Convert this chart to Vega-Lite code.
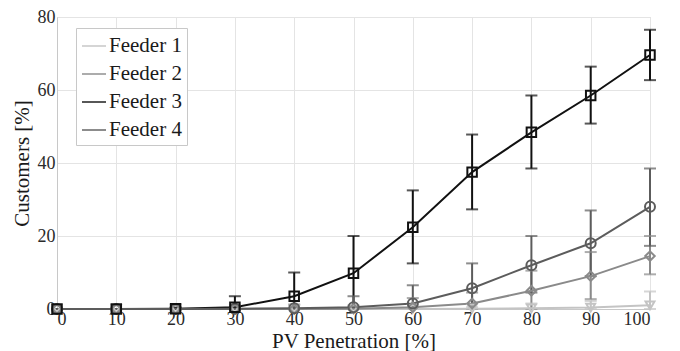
{
  "$schema": "https://vega.github.io/schema/vega-lite/v6.json",
  "width": 593,
  "height": 292,
  "autosize": {"type": "none"},
  "padding": {"left": 57, "top": 17, "right": 30, "bottom": 42},
  "background": "white",
  "config": {
    "font": "Liberation Serif",
    "view": {"stroke": "#d0d0d0", "strokeWidth": 1},
    "axis": {
      "labelFont": "Liberation Serif",
      "titleFont": "Liberation Serif",
      "labelFontSize": 18,
      "titleFontSize": 21,
      "labelColor": "#2a2a2a",
      "titleColor": "#1a1a1a",
      "titleFontWeight": "normal",
      "gridColor": "#e4e4e4",
      "gridWidth": 1,
      "domainColor": "#c8c8c8",
      "ticks": false
    },
    "legend": {
      "labelFont": "Liberation Serif",
      "labelFontSize": 21,
      "labelColor": "#1a1a1a"
    }
  },
  "data": {
    "values": [
      {"x": 0, "feeder": "Feeder 1", "y": 0, "lo": 0, "hi": 0},
      {"x": 10, "feeder": "Feeder 1", "y": 0, "lo": 0, "hi": 0},
      {"x": 20, "feeder": "Feeder 1", "y": 0, "lo": 0, "hi": 0},
      {"x": 30, "feeder": "Feeder 1", "y": 0, "lo": 0, "hi": 0},
      {"x": 40, "feeder": "Feeder 1", "y": 0, "lo": 0, "hi": 0},
      {"x": 50, "feeder": "Feeder 1", "y": 0, "lo": 0, "hi": 0},
      {"x": 60, "feeder": "Feeder 1", "y": 0, "lo": 0, "hi": 0},
      {"x": 70, "feeder": "Feeder 1", "y": 0.1, "lo": 0, "hi": 0.5},
      {"x": 80, "feeder": "Feeder 1", "y": 0.2, "lo": 0, "hi": 1.5},
      {"x": 90, "feeder": "Feeder 1", "y": 0.4, "lo": 0, "hi": 2.2},
      {"x": 100, "feeder": "Feeder 1", "y": 1, "lo": 0, "hi": 4.8},
      {"x": 0, "feeder": "Feeder 2", "y": 0, "lo": 0, "hi": 0},
      {"x": 10, "feeder": "Feeder 2", "y": 0, "lo": 0, "hi": 0},
      {"x": 20, "feeder": "Feeder 2", "y": 0, "lo": 0, "hi": 0},
      {"x": 30, "feeder": "Feeder 2", "y": 0, "lo": 0, "hi": 0},
      {"x": 40, "feeder": "Feeder 2", "y": 0, "lo": 0, "hi": 0},
      {"x": 50, "feeder": "Feeder 2", "y": 0.1, "lo": 0, "hi": 0.8},
      {"x": 60, "feeder": "Feeder 2", "y": 0.5, "lo": 0, "hi": 3},
      {"x": 70, "feeder": "Feeder 2", "y": 1.5, "lo": 0, "hi": 4.5},
      {"x": 80, "feeder": "Feeder 2", "y": 5, "lo": 0, "hi": 10.5},
      {"x": 90, "feeder": "Feeder 2", "y": 9, "lo": 2.7, "hi": 15.6},
      {"x": 100, "feeder": "Feeder 2", "y": 14.5, "lo": 9.5, "hi": 20},
      {"x": 0, "feeder": "Feeder 3", "y": 0, "lo": 0, "hi": 0},
      {"x": 10, "feeder": "Feeder 3", "y": 0, "lo": 0, "hi": 0},
      {"x": 20, "feeder": "Feeder 3", "y": 0.1, "lo": 0, "hi": 0.4},
      {"x": 30, "feeder": "Feeder 3", "y": 0.5, "lo": 0, "hi": 3.5},
      {"x": 40, "feeder": "Feeder 3", "y": 3.5, "lo": 0, "hi": 10},
      {"x": 50, "feeder": "Feeder 3", "y": 9.8, "lo": 0, "hi": 20},
      {"x": 60, "feeder": "Feeder 3", "y": 22.4, "lo": 12.5, "hi": 32.5},
      {"x": 70, "feeder": "Feeder 3", "y": 37.5, "lo": 27.3, "hi": 47.8},
      {"x": 80, "feeder": "Feeder 3", "y": 48.4, "lo": 38.5, "hi": 58.5},
      {"x": 90, "feeder": "Feeder 3", "y": 58.5, "lo": 50.8, "hi": 66.4},
      {"x": 100, "feeder": "Feeder 3", "y": 69.6, "lo": 62.7, "hi": 76.5},
      {"x": 0, "feeder": "Feeder 4", "y": 0, "lo": 0, "hi": 0},
      {"x": 10, "feeder": "Feeder 4", "y": 0, "lo": 0, "hi": 0},
      {"x": 20, "feeder": "Feeder 4", "y": 0, "lo": 0, "hi": 0},
      {"x": 30, "feeder": "Feeder 4", "y": 0.1, "lo": 0, "hi": 0.6},
      {"x": 40, "feeder": "Feeder 4", "y": 0.2, "lo": 0, "hi": 1.2},
      {"x": 50, "feeder": "Feeder 4", "y": 0.5, "lo": 0, "hi": 3.5},
      {"x": 60, "feeder": "Feeder 4", "y": 1.5, "lo": 0, "hi": 6.5},
      {"x": 70, "feeder": "Feeder 4", "y": 5.7, "lo": 0, "hi": 12.5},
      {"x": 80, "feeder": "Feeder 4", "y": 12, "lo": 4.5, "hi": 20},
      {"x": 90, "feeder": "Feeder 4", "y": 18, "lo": 9, "hi": 27},
      {"x": 100, "feeder": "Feeder 4", "y": 28, "lo": 17.3, "hi": 38.5}
    ]
  },
  "encoding": {
    "x": {
      "field": "x", "type": "quantitative",
      "scale": {"domain": [0, 100], "nice": false},
      "axis": {"values": [0,10,20,30,40,50,60,70,80,90,100], "title": "PV Penetration [%]", "labelPadding": 1, "titlePadding": 2}
    },
    "color": {
      "field": "feeder", "type": "nominal",
      "scale": {"domain": ["Feeder 1", "Feeder 2", "Feeder 3", "Feeder 4"], "range": ["#c4c4c4", "#8a8a8a", "#111111", "#5c5c5c"]},
      "legend": {
        "orient": "none", "legendX": 19, "legendY": 11,
        "title": null,
        "symbolType": "stroke", "symbolSize": 576, "symbolStrokeWidth": 2,
        "strokeColor": "#c8c8c8", "fillColor": "white",
        "padding": 5, "rowPadding": 5, "labelOffset": 2
      }
    }
  },
  "layer": [
    {
      "mark": {"type": "rule", "strokeWidth": 2},
      "encoding": {
        "y": {"field": "lo", "type": "quantitative"},
        "y2": {"field": "hi"}
      }
    },
    {
      "mark": {"type": "tick", "orient": "horizontal", "size": 12, "thickness": 2},
      "encoding": {"y": {"field": "hi", "type": "quantitative"}}
    },
    {
      "mark": {"type": "tick", "orient": "horizontal", "size": 12, "thickness": 2},
      "encoding": {"y": {"field": "lo", "type": "quantitative"}}
    },
    {
      "mark": {"type": "line", "strokeWidth": 2},
      "encoding": {
        "y": {
          "field": "y", "type": "quantitative",
          "scale": {"domain": [0, 80], "nice": false},
          "axis": {"values": [0, 20, 40, 60, 80], "title": "Customers [%]", "labelPadding": 2, "titlePadding": 5}
        }
      }
    },
    {
      "transform": [{"filter": "datum.feeder === 'Feeder 1'"}],
      "mark": {"type": "point", "shape": "triangle-down", "filled": false, "strokeWidth": 2, "size": 80, "opacity": 1},
      "encoding": {"y": {"field": "y", "type": "quantitative"}, "color": {"value": "#c4c4c4"}}
    },
    {
      "transform": [{"filter": "datum.feeder === 'Feeder 2'"}],
      "mark": {"type": "point", "shape": "diamond", "filled": false, "strokeWidth": 2, "size": 90, "opacity": 1},
      "encoding": {"y": {"field": "y", "type": "quantitative"}, "color": {"value": "#8a8a8a"}}
    },
    {
      "transform": [{"filter": "datum.feeder === 'Feeder 4'"}],
      "mark": {"type": "point", "shape": "circle", "filled": false, "strokeWidth": 2, "size": 100, "opacity": 1},
      "encoding": {"y": {"field": "y", "type": "quantitative"}, "color": {"value": "#5c5c5c"}}
    },
    {
      "transform": [{"filter": "datum.feeder === 'Feeder 3'"}],
      "mark": {"type": "point", "shape": "square", "filled": false, "strokeWidth": 2, "size": 90, "opacity": 1},
      "encoding": {"y": {"field": "y", "type": "quantitative"}, "color": {"value": "#111111"}}
    }
  ]
}
